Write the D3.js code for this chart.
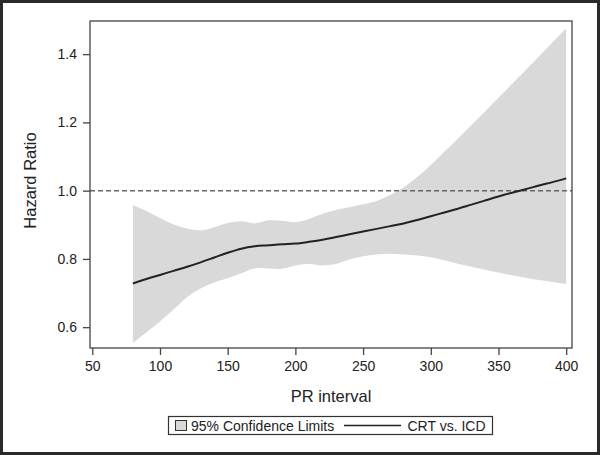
<!DOCTYPE html>
<html>
<head>
<meta charset="utf-8">
<script src="https://cdn.jsdelivr.net/npm/d3@7"></script>
<style>
  html, body { margin: 0; padding: 0; background: #fff; }
  svg { display: block; font-family: "Liberation Sans", Arial, sans-serif; }
</style>
</head>
<body>
<svg id="chart" width="600" height="455"></svg>
<script>
// PR interval grid and read-off values
const pr = [80, 90, 100, 110, 120, 130, 140, 150, 160, 170, 180, 190, 200, 210, 220,
  230, 240, 250, 260, 270, 280, 290, 300, 310, 320, 330, 340, 350, 360, 370, 380, 390, 400];

const hazard = [0.728, 0.741, 0.753, 0.765, 0.777, 0.790, 0.804, 0.818, 0.830, 0.837, 0.840,
  0.843, 0.845, 0.850, 0.856, 0.864, 0.872, 0.880, 0.888, 0.896, 0.904, 0.914, 0.925, 0.936,
  0.947, 0.959, 0.971, 0.983, 0.994, 1.004, 1.015, 1.025, 1.036];

const upper = [0.958, 0.940, 0.920, 0.901, 0.889, 0.884, 0.893, 0.905, 0.910, 0.904, 0.913,
  0.912, 0.908, 0.917, 0.932, 0.943, 0.951, 0.960, 0.970, 0.987, 1.010, 1.040, 1.075, 1.114,
  1.153, 1.192, 1.232, 1.272, 1.313, 1.353, 1.394, 1.435, 1.476];

const lower = [0.554, 0.585, 0.617, 0.652, 0.688, 0.713, 0.731, 0.743, 0.758, 0.772, 0.772,
  0.771, 0.781, 0.785, 0.781, 0.785, 0.798, 0.808, 0.813, 0.815, 0.813, 0.810, 0.805, 0.796,
  0.786, 0.777, 0.768, 0.760, 0.752, 0.745, 0.738, 0.732, 0.726];

const xTicks = [50, 100, 150, 200, 250, 300, 350, 400];
const yTicks = [0.6, 0.8, 1.0, 1.2, 1.4];
const refValue = 1.0;

const svg = d3.select('#chart');
const ink = '#222';

const plotL = 90, plotR = 572, plotT = 21, plotB = 348;

const x = d3.scaleLinear().domain([48.3, 404.3]).range([plotL, plotR]);
const y = d3.scaleLinear().domain([0.539, 1.497]).range([plotB, plotT]);

const rows = pr.map((p, i) => ({ p, hr: hazard[i], lo: lower[i], hi: upper[i] }));

// outer border
svg.append('rect')
  .attr('x', 1.5).attr('y', 1.5)
  .attr('width', 597).attr('height', 452)
  .attr('fill', 'none').attr('stroke', '#2a2a2a').attr('stroke-width', 3);

// confidence band
const band = d3.area()
  .x(d => x(d.p))
  .y0(d => y(d.lo))
  .y1(d => y(d.hi))
  .curve(d3.curveCatmullRom);

svg.append('path')
  .datum(rows)
  .attr('d', band)
  .attr('fill', '#d9d9d9');

// reference line at 1.0
svg.append('line')
  .attr('x1', plotL).attr('x2', plotR)
  .attr('y1', y(refValue)).attr('y2', y(refValue))
  .attr('stroke', '#666').attr('stroke-width', 1.5)
  .attr('stroke-dasharray', '5,3');

// hazard ratio curve
const line = d3.line()
  .x(d => x(d.p))
  .y(d => y(d.hr))
  .curve(d3.curveCatmullRom);

svg.append('path')
  .datum(rows)
  .attr('d', line)
  .attr('fill', 'none')
  .attr('stroke', ink)
  .attr('stroke-width', 2);

// plot frame
svg.append('rect')
  .attr('x', plotL).attr('y', plotT)
  .attr('width', plotR - plotL).attr('height', plotB - plotT)
  .attr('fill', 'none').attr('stroke', '#444').attr('stroke-width', 1.3);

// axes
const xAxis = svg.append('g')
  .attr('transform', `translate(0,${plotB})`)
  .call(d3.axisBottom(x).tickValues(xTicks).tickSize(7).tickPadding(6).tickFormat(d3.format('d')));

const yAxis = svg.append('g')
  .attr('transform', `translate(${plotL},0)`)
  .call(d3.axisLeft(y).tickValues(yTicks).tickSize(7).tickPadding(6).tickFormat(d3.format('.1f')));

[xAxis, yAxis].forEach(g => {
  g.select('.domain').remove();
  g.selectAll('line').attr('stroke', '#444').attr('stroke-width', 1.3);
  g.selectAll('text').attr('fill', ink).style('font-size', '14px');
});

// axis titles
svg.append('text')
  .attr('x', (plotL + plotR) / 2).attr('y', 402)
  .attr('text-anchor', 'middle')
  .attr('fill', ink).style('font-size', '16.5px')
  .text('PR interval');

svg.append('text')
  .attr('transform', `translate(36,${(plotT + plotB) / 2 - 4}) rotate(-90)`)
  .attr('text-anchor', 'middle')
  .attr('fill', ink).style('font-size', '16.5px')
  .text('Hazard Ratio');

// legend
const lg = svg.append('g');
lg.append('rect')
  .attr('x', 168.5).attr('y', 416.5).attr('width', 324).attr('height', 18)
  .attr('fill', '#fff').attr('stroke', '#333').attr('stroke-width', 1.2);
lg.append('rect')
  .attr('x', 175.5).attr('y', 420.5).attr('width', 11).attr('height', 10)
  .attr('fill', '#d9d9d9').attr('stroke', '#333').attr('stroke-width', 1);
lg.append('text')
  .attr('x', 191).attr('y', 430.5)
  .attr('fill', ink).style('font-size', '14px')
  .text('95% Confidence Limits');
lg.append('line')
  .attr('x1', 344).attr('x2', 401).attr('y1', 425.5).attr('y2', 425.5)
  .attr('stroke', ink).attr('stroke-width', 1.3);
lg.append('text')
  .attr('x', 407.5).attr('y', 430.5)
  .attr('fill', ink).style('font-size', '14px')
  .text('CRT vs. ICD');
</script>
</body>
</html>
